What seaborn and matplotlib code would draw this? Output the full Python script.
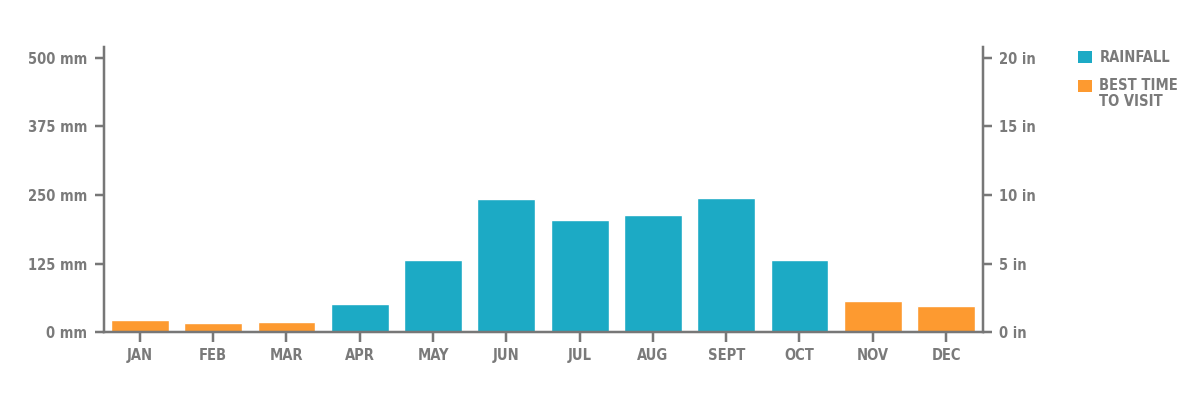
import numpy as np
import pandas as pd
import seaborn as sns
import matplotlib.pyplot as plt
from matplotlib.patches import Patch, Rectangle
from matplotlib.legend_handler import HandlerPatch

months = ["JAN", "FEB", "MAR", "APR", "MAY", "JUN", "JUL", "AUG", "SEPT", "OCT", "NOV", "DEC"]
rainfall_mm = [22, 17, 19, 51, 132, 243, 204, 213, 244, 132, 57, 48]
best_time = [True, True, True, False, False, False, False, False, False, False, True, True]
mm_ticks = [0, 125, 250, 375, 500]
in_ticks = [0, 5, 10, 15, 20]

teal = "#1caac5"
orange = "#fd9a30"
grey = "#777777"
text_grey = "#7a7a7a"
px = 72 / 100  # points per pixel at dpi 100

df = pd.DataFrame({
    "month": months,
    "rain": rainfall_mm,
    "kind": ["BEST TIME\nTO VISIT" if b else "RAINFALL" for b in best_time],
})

sns.set_style("white")
plt.rcParams["font.family"] = ["DejaVu Sans"]
plt.rcParams["font.stretch"] = "condensed"
plt.rcParams["font.weight"] = "bold"

fig = plt.figure(figsize=(12, 4), dpi=100)
ax = fig.add_axes([104 / 1200, 1 - 332.3 / 400, (982.7 - 104) / 1200, (332.3 - 46.7) / 400])

sns.barplot(data=df, x="month", y="rain", hue="kind", order=months,
            palette={"RAINFALL": teal, "BEST TIME\nTO VISIT": orange},
            dodge=False, width=0.79, saturation=1, legend=False, ax=ax)

ax.set_xlim(-0.49, 11.5)
ax.set_ylim(0, 520)
ax.set_xlabel("")
ax.set_ylabel("")
ax.set_yticks(mm_ticks)
ax.set_yticklabels([f"{v} mm" for v in mm_ticks])

lw = 2.5 * px
for side in ["top", "right"]:
    ax.spines[side].set_visible(False)
for side in ["left", "bottom"]:
    ax.spines[side].set_color(grey)
    ax.spines[side].set_linewidth(lw)

fs = 10.5
ax.tick_params(axis="y", length=9 * px, width=lw, color=grey, pad=8 * px,
               labelsize=fs, labelcolor=text_grey, left=True)
ax.tick_params(axis="x", length=10 * px, width=lw, color=grey, pad=6 * px,
               labelsize=fs, labelcolor=text_grey, bottom=True)

ax2 = ax.twinx()
ax2.set_ylim(0, 520 / 25)
ax2.set_yticks(in_ticks)
ax2.set_yticklabels([f"{v} in" for v in in_ticks])
for side in ["top", "left", "bottom"]:
    ax2.spines[side].set_visible(False)
ax2.spines["right"].set_color(grey)
ax2.spines["right"].set_linewidth(lw)
ax2.tick_params(axis="y", length=9 * px, width=lw, color=grey, pad=7 * px,
                labelsize=fs, labelcolor=text_grey, right=True)
ax2.grid(False)
ax.grid(False)


def top_square(legend, orig_handle, xdescent, ydescent, width, height, fontsize):
    # put the swatch next to the first line of a two-line label
    shift = 8.5 * px if "\n" in orig_handle.get_label() else 0
    return Rectangle((-xdescent, -ydescent + shift), width, height)


handles = [Patch(facecolor=teal, edgecolor="none", label="RAINFALL"),
           Patch(facecolor=orange, edgecolor="none", label="BEST TIME\nTO VISIT")]
leg = fig.legend(handles=handles, loc="upper left", bbox_to_anchor=(1078 / 1200, 1 - 50 / 400),
                 frameon=False, fontsize=fs, handlelength=0.96, handleheight=0.96,
                 handletextpad=0.5, labelspacing=0.87, borderaxespad=0, borderpad=0,
                 handler_map={Patch: HandlerPatch(patch_func=top_square)})
for t in leg.get_texts():
    t.set_color(text_grey)
    t.set_linespacing(1.15)

fig.savefig("out.png", dpi=100)
